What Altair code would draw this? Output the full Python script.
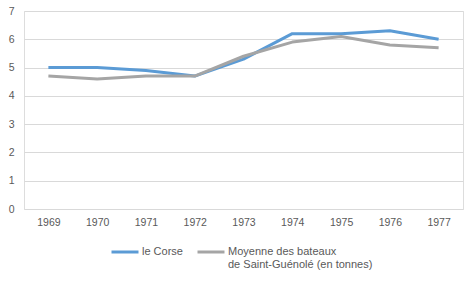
import altair as alt
import pandas as pd

years = ["1969", "1970", "1971", "1972", "1973", "1974", "1975", "1976", "1977"]
corse = [5.0, 5.0, 4.9, 4.7, 5.3, 6.2, 6.2, 6.3, 6.0]
moyenne = [4.7, 4.6, 4.7, 4.7, 5.4, 5.9, 6.1, 5.8, 5.7]
series = ["le Corse\n ", "Moyenne des bateaux\nde Saint-Guénolé (en tonnes)"]
colors = ["#5B9BD5", "#A5A5A5"]

rows = []
for s, vals in zip(series, [corse, moyenne]):
    for y, v in zip(years, vals):
        rows.append({"year": y, "value": v, "series": s})
df = pd.DataFrame(rows)

FONT = "Liberation Sans"
TXT = "#595959"

chart = alt.Chart(df).mark_line(strokeWidth=3, strokeCap="butt", strokeJoin="round").encode(
    x=alt.X("year:O", sort=years, title=None,
            scale=alt.Scale(paddingInner=0, paddingOuter=0.5),
            axis=alt.Axis(labelAngle=0, ticks=False, domain=False, labelPadding=8,
                          labelFont=FONT, labelFontSize=10.5, labelColor=TXT)),
    y=alt.Y("value:Q", title=None,
            scale=alt.Scale(domain=[0, 7], nice=False),
            axis=alt.Axis(values=list(range(0, 8)), ticks=False, domain=False, labelPadding=10,
                          gridColor="#D9D9D9", gridWidth=1,
                          labelFont=FONT, labelFontSize=10.5, labelColor=TXT)),
    color=alt.Color("series:N", sort=series,
                    scale=alt.Scale(domain=series, range=colors),
                    legend=alt.Legend(title=None, orient="none", legendX=86, legendY=226,
                                      direction="horizontal", symbolType="stroke",
                                      symbolSize=27 * 27, symbolStrokeWidth=3, symbolOffset=0,
                                      labelFont=FONT, labelFontSize=11, labelColor=TXT,
                                      labelOffset=2, columnPadding=8, labelLimit=300,
                                      labelBaseline="middle",
                                      labelExpr="split(datum.label, '\\n')")),
    order=alt.Order("series:N"),
).properties(
    width=439, height=198,
    autosize=alt.AutoSizeParams(type="none"),
    padding={"left": 24, "top": 11, "right": 8, "bottom": 73},
).configure_view(stroke=None).configure(background="white")

chart.save("out.html", embed_options={"renderer": "svg", "actions": False})
